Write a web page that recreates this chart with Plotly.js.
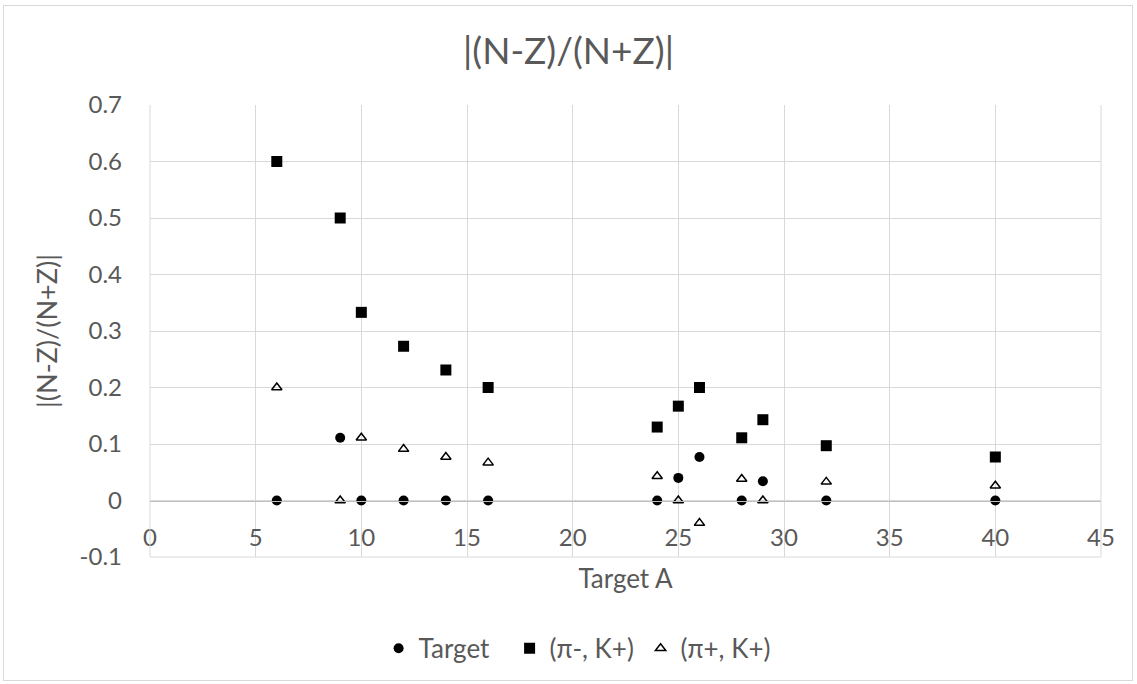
<!DOCTYPE html>
<html>
<head>
<meta charset="utf-8">
<script src="https://cdn.plot.ly/plotly-3.0.1.min.js"></script>
<style>
html,body{margin:0;padding:0;background:#fff;}
#wrap{position:absolute;left:0;top:0;width:1137px;height:684px;}
#frame{position:absolute;left:3px;top:5px;width:1130px;height:676px;border:1px solid #d9d9d9;box-sizing:border-box;pointer-events:none;}
#chart{width:1137px;height:684px;}
</style>
</head>
<body>
<div id="wrap"><div id="chart"></div><div id="frame"></div></div>
<script>
const targetA = [6, 9, 10, 12, 14, 16, 24, 25, 26, 28, 29, 32, 40];
const targetVals = [0, 0.111, 0, 0, 0, 0, 0, 0.04, 0.077, 0, 0.034, 0, 0];
const piMinusVals = [0.6, 0.5, 0.333, 0.273, 0.231, 0.2, 0.13, 0.167, 0.2, 0.111, 0.143, 0.097, 0.077];
const piPlusVals = [0.2, 0, 0.111, 0.091, 0.077, 0.067, 0.043, 0, -0.04, 0.038, 0, 0.033, 0.026];
const seriesNames = ['Target', '(π-, K+)', '(π+, K+)'];
const yTickVals = [-0.1, 0, 0.1, 0.2, 0.3, 0.4, 0.5, 0.6, 0.7];
const yTickText = ['-0.1', '0', '0.1', '0.2', '0.3', '0.4', '0.5', '0.6', '0.7'];

const font = 'Lato, Calibri, "Liberation Sans", sans-serif';
const grey = '#595959';

const traces = [
  {x: targetA, y: targetVals, name: seriesNames[0], type: 'scatter', mode: 'markers',
   marker: {symbol: 'circle', size: 10, color: '#000'}},
  {x: targetA, y: piMinusVals, name: seriesNames[1], type: 'scatter', mode: 'markers',
   marker: {symbol: 'square', size: 11, color: '#000'}},
  {x: targetA, y: piPlusVals, name: seriesNames[2], type: 'scatter', mode: 'markers',
   marker: {symbol: 'triangle-up-open', size: 9, color: '#000', line: {width: 1.5, color: '#000'}}}
];

const zeroPos = (0 - (-0.1)) / (0.7 - (-0.1));

const layout = {
  width: 1137, height: 684,
  margin: {l: 150, r: 36, t: 105, b: 125},
  paper_bgcolor: '#fff', plot_bgcolor: '#fff',
  font: {family: font, color: grey, size: 24},
  title: {text: '|(N-Z)/(N+Z)|', x: 0.5, xanchor: 'center', y: 0.925, yanchor: 'middle',
          font: {family: font, size: 37, color: grey}},
  xaxis: {
    range: [0, 45], dtick: 5, tick0: 0,
    anchor: 'free', position: zeroPos,
    showgrid: true, gridcolor: '#d9d9d9', gridwidth: 1,
    showline: true, linecolor: '#bfbfbf', linewidth: 1.3,
    zeroline: false, ticks: '',
    ticklabelstandoff: 15,
    tickfont: {family: font, size: 24, color: grey},
    title: {text: 'Target A', font: {family: font, size: 26, color: grey}, standoff: 20}
  },
  yaxis: {
    range: [-0.1, 0.7], tickmode: 'array', tickvals: yTickVals, ticktext: yTickText,
    showgrid: true, gridcolor: '#d9d9d9', gridwidth: 1,
    zeroline: false, showline: false, ticks: '',
    ticklabelstandoff: 27,
    tickfont: {family: font, size: 24, color: grey},
    title: {text: '|(N-Z)/(N+Z)|', font: {family: font, size: 27, color: grey}, standoff: 14}
  },
  shapes: [
    {type: 'line', xref: 'paper', yref: 'paper', x0: 0, x1: 1, y0: 0, y1: 0, line: {color: '#d9d9d9', width: 1}},
    {type: 'line', xref: 'paper', yref: 'paper', x0: 1, x1: 1, y0: 0, y1: 1, line: {color: '#d9d9d9', width: 1}},
    {type: 'line', xref: 'paper', yref: 'paper', x0: 0, x1: 0, y0: 0, y1: 1, line: {color: '#d9d9d9', width: 1}}
  ],
  showlegend: true,
  legend: {orientation: 'h', x: 0.447, xanchor: 'center', y: -0.15, yanchor: 'top',
           font: {family: font, size: 26, color: grey}, itemwidth: 30, entrywidth: 86,
           traceorder: 'normal'}
};

Plotly.newPlot('chart', traces, layout, {displayModeBar: false, staticPlot: true});
</script>
</body>
</html>
